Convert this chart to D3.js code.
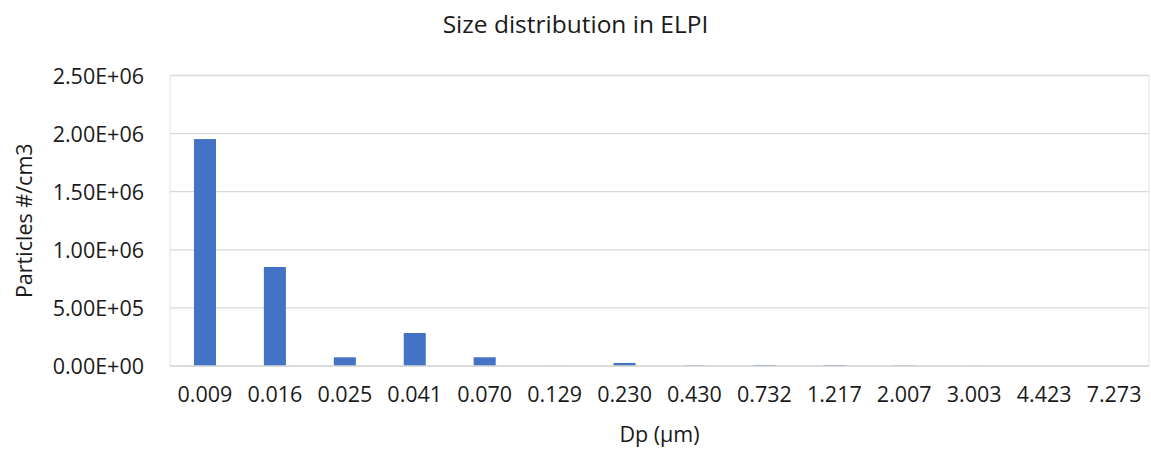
<!DOCTYPE html>
<html>
<head>
<meta charset="utf-8">
<script src="https://cdn.jsdelivr.net/npm/d3@7"></script>
<style>
  body { margin:0; background:#fff; }
  text { font-family:"Open Sans", sans-serif; fill:#1a1a1a; }
</style>
</head>
<body>
<div id="chart"></div>
<script>
// ELPI stage diameters (µm) and number concentrations
const sizes = ["0.009","0.016","0.025","0.041","0.070","0.129","0.230","0.430","0.732","1.217","2.007","3.003","4.423","7.273"];
const counts = [1953000, 852000, 75000, 284000, 75000, 800, 26000, 5000, 9000, 9000, 4000, 500, 400, 300];
const yTicks = [0, 500000, 1000000, 1500000, 2000000, 2500000];

const W = 1151, H = 451;
const margin = {top:75.5, right:2, bottom:85, left:170};
const width = W - margin.left - margin.right,
      height = H - margin.top - margin.bottom;

const svg = d3.select("#chart").append("svg").attr("width",W).attr("height",H);
const g = svg.append("g").attr("transform",`translate(${margin.left},${margin.top})`);

const x = d3.scaleBand().domain(sizes).range([0,width]).paddingInner(0.685).paddingOuter(0.3425);
const y = d3.scaleLinear().domain([0,2500000]).range([height,0]);

// gridlines
g.selectAll("line.grid").data(yTicks).join("line").attr("class","grid")
  .attr("x1",0).attr("x2",width).attr("y1",d=>y(d)).attr("y2",d=>y(d))
  .attr("stroke","#d9d9d9").attr("stroke-width",1.3);
// plot frame sides
g.append("line").attr("x1",0).attr("x2",0).attr("y1",0).attr("y2",height).attr("stroke","#e3e3e3");
g.append("line").attr("x1",width).attr("x2",width).attr("y1",0).attr("y2",height).attr("stroke","#e3e3e3");

// bars
g.selectAll("rect").data(counts).join("rect")
  .attr("x",(d,i)=>x(sizes[i])).attr("width",x.bandwidth())
  .attr("y",d=>y(d)).attr("height",d=>height - y(d))
  .attr("fill","#4472c4");

// baseline
g.append("line").attr("x1",0).attr("x2",width).attr("y1",y(0)).attr("y2",y(0)).attr("stroke","#d9d9d9").attr("stroke-width",1.5);

// y axis
const yAxis = g.append("g").call(d3.axisLeft(y).tickValues(yTicks).tickSize(0).tickPadding(26)
  .tickFormat(d=>{ const s = d3.format(".2e")(d).toUpperCase(); return s.replace(/E([+-])(\d)$/,"E$10$2"); }));
yAxis.select(".domain").remove();
yAxis.selectAll("text").style("font-size","21.5px").attr("dy","0.35em");

// x axis
const xAxis = g.append("g").attr("transform",`translate(0,${height})`)
  .call(d3.axisBottom(x).tickSize(0).tickPadding(36));
xAxis.select(".domain").remove();
xAxis.selectAll("text").style("font-size","21.5px").attr("dy","0");

// titles
svg.append("text").attr("x",W/2).attr("y",33).attr("text-anchor","middle")
  .style("font-size","24.5px").text("Size distribution in ELPI");
svg.append("text").attr("x",margin.left+width/2).attr("y",442).attr("text-anchor","middle")
  .style("font-size","21.5px").text("Dp (µm)");
svg.append("text").attr("transform",`translate(32,${margin.top+height/2}) rotate(-90)`)
  .attr("text-anchor","middle").style("font-size","21.5px").text("Particles #/cm3");
</script>
</body>
</html>
